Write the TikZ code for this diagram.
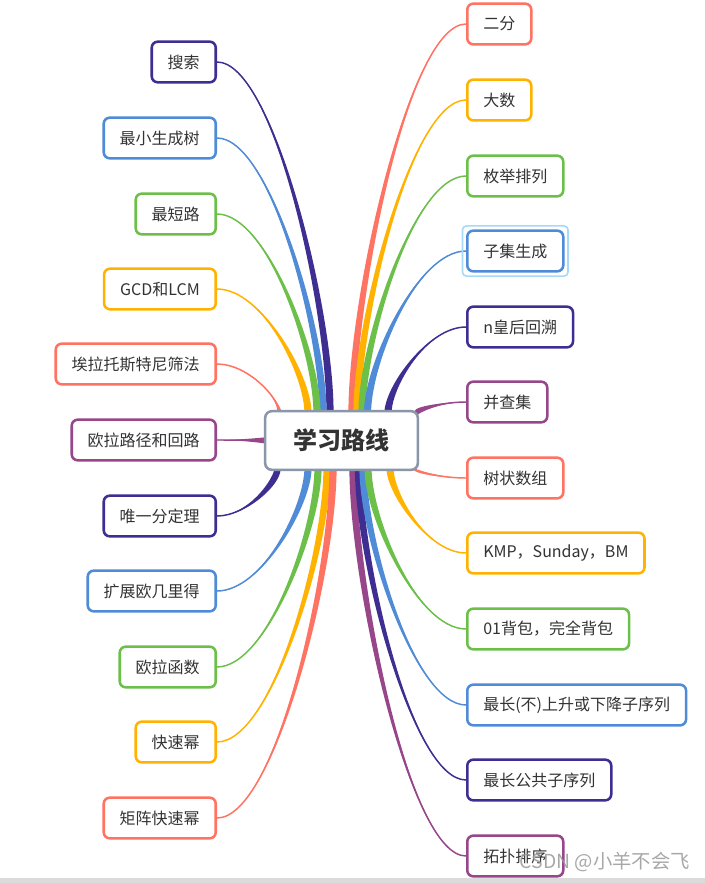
\documentclass[tikz,border=0pt]{standalone}
\usepackage{fontspec}
\setmainfont{Noto Sans CJK SC}
\usetikzlibrary{calc,backgrounds}
\definecolor{cred}{HTML}{FF7363}
\definecolor{cyel}{HTML}{FFB300}
\definecolor{cgrn}{HTML}{6CC04A}
\definecolor{cblu}{HTML}{4F8BD6}
\definecolor{cdp}{HTML}{3F2E92}
\definecolor{cpur}{HTML}{974689}
\definecolor{croot}{HTML}{8A97AA}
\definecolor{ctext}{HTML}{333333}
\definecolor{csel}{HTML}{A6DAF8}
\newcommand\mmbranch[4]{%
 \fill[#1] let \p1=(#2), \p2=(#3), \p3=#4 in
  (\p1) .. controls ({\x1+0.5*(\x2-\x1)},{\y1}) and ({\x2+\x3},{\y2+0.3*(\y1-\y2)+\y3}) .. ({\x2+\x3},{\y2+\y3})
  -- ({\x2-\x3},{\y2-\y3}) .. controls ({\x2-\x3},{\y2+0.3*(\y1-\y2)-\y3}) and ({\x1+0.5*(\x2-\x1)},{\y1}) .. (\p1) -- cycle;
 \draw[#1, line width=1.1pt] let \p1=(#2), \p2=(#3) in
  (\p1) .. controls ({\x1+0.5*(\x2-\x1)},{\y1}) and ({\x2},{\y2+0.3*(\y1-\y2)}) .. (\p2);
}
\tikzset{
 leaf/.style={draw=#1, line width=1.9pt, rounded corners=4.5pt, fill=white,
   minimum height=30.5pt, inner xsep=12pt, inner ysep=0pt, text=ctext,
   font=\fontsize{12}{14}\selectfont},
 rootbox/.style={draw=croot, line width=1.9pt, rounded corners=5pt, fill=white,
   minimum width=114.5pt, minimum height=44pt, text=ctext,
   font=\fontsize{18}{20}\selectfont\bfseries},
}
\begin{document}
\begin{tikzpicture}[x=0.75pt,y=-0.75pt]
\useasboundingbox (0,0) rectangle (705,883);
\begin{pgfonlayer}{background}
\fill[white] (0,0) rectangle (705,883);
\end{pgfonlayer}
% root
\node[rootbox] (root) at (341.5,440.5) {学习路线};
% left nodes
\node[leaf=cdp,  anchor=east] (l1)  at (217,62)  {搜索};
\node[leaf=cblu, anchor=east] (l2)  at (217,138) {最小生成树};
\node[leaf=cgrn, anchor=east] (l3)  at (217,214) {最短路};
\node[leaf=cyel, anchor=east] (l4)  at (217,289) {GCD和LCM};
\node[leaf=cred, anchor=east] (l5)  at (217,364) {埃拉托斯特尼筛法};
\node[leaf=cpur, anchor=east] (l6)  at (217,440) {欧拉路径和回路};
\node[leaf=cdp,  anchor=east] (l7)  at (217,516) {唯一分定理};
\node[leaf=cblu, anchor=east] (l8)  at (217,591) {扩展欧几里得};
\node[leaf=cgrn, anchor=east] (l9)  at (217,667) {欧拉函数};
\node[leaf=cyel, anchor=east] (l10) at (217,742) {快速幂};
\node[leaf=cred, anchor=east] (l11) at (217,818) {矩阵快速幂};
% right nodes
\node[leaf=cred, anchor=west] (r1)  at (466,24)  {二分};
\node[leaf=cyel, anchor=west] (r2)  at (466,100) {大数};
\node[leaf=cgrn, anchor=west] (r3)  at (466,176) {枚举排列};
\node[leaf=cblu, anchor=west] (r4)  at (466,251) {子集生成};
\node[leaf=cdp,  anchor=west] (r5)  at (466,327) {n皇后回溯};
\node[leaf=cpur, anchor=west] (r6)  at (466,402) {并查集};
\node[leaf=cred, anchor=west] (r7)  at (466,478) {树状数组};
\node[leaf=cyel, anchor=west] (r8)  at (466,553) {KMP，Sunday，BM};
\node[leaf=cgrn, anchor=west] (r9)  at (466,629) {01背包，完全背包};
\node[leaf=cblu, anchor=west] (r10) at (466,705) {最长(不)上升或下降子序列};
\node[leaf=cdp,  anchor=west] (r11) at (466,780) {最长公共子序列};
\node[leaf=cpur, anchor=west] (r12) at (466,856) {拓扑排序};
% selection outline
\draw[csel, line width=1.2pt, rounded corners=3pt] ($(r4.north west)+(-3.5,-3.5)$) rectangle ($(r4.south east)+(3.5,3.5)$);
% branches
\begin{pgfonlayer}{background}
\mmbranch{cdp} {l1.east}{$(root.north)+(-11.5,3)$}{(3.6,0)}
\mmbranch{cblu}{l2.east}{$(root.north)+(-18.5,3)$}{(3.6,0)}
\mmbranch{cgrn}{l3.east}{$(root.north)+(-24.5,3)$}{(3.6,0)}
\mmbranch{cyel}{l4.east}{$(root.north)+(-33.5,3)$}{(3.6,0)}
\mmbranch{cred}{l5.east}{$(root.north west)+(16,4)$}{(2.6,2.6)}
\mmbranch{cpur}{l6.east}{$(root.west)+(4,0)$}{(0,3.4)}
\mmbranch{cdp} {l7.east}{$(root.south west)+(14,-4)$}{(2.6,2.6)}
\mmbranch{cblu}{l8.east}{$(root.south)+(-33.5,-3)$}{(3.6,0)}
\mmbranch{cgrn}{l9.east}{$(root.south)+(-23.5,-3)$}{(3.6,0)}
\mmbranch{cyel}{l10.east}{$(root.south)+(-14.5,-3)$}{(3.6,0)}
\mmbranch{cred}{l11.east}{$(root.south)+(-8.5,-3)$}{(3.6,0)}
\mmbranch{cred}{r1.west}{$(root.north)+(10.5,3)$}{(3.6,0)}
\mmbranch{cyel}{r2.west}{$(root.north)+(15.5,3)$}{(3.6,0)}
\mmbranch{cgrn}{r3.west}{$(root.north)+(20.5,3)$}{(3.6,0)}
\mmbranch{cblu}{r4.west}{$(root.north)+(26,3)$}{(3.6,0)}
\mmbranch{cdp} {r5.west}{$(root.north)+(46.5,3)$}{(3.6,0)}
\mmbranch{cpur}{r6.west}{$(root.north east)+(-4,4)$}{(0,3.4)}
\mmbranch{cred}{r7.west}{$(root.south east)+(-8,-4)$}{(2.6,2.6)}
\mmbranch{cyel}{r8.west}{$(root.south)+(48.5,-3)$}{(3.6,0)}
\mmbranch{cpur}{r12.west}{$(root.south)+(11.5,-3)$}{(3.6,0)}
\mmbranch{cdp} {r11.west}{$(root.south)+(17,-3)$}{(3.6,0)}
\mmbranch{cblu}{r10.west}{$(root.south)+(21.5,-3)$}{(3.6,0)}
\mmbranch{cgrn}{r9.west}{$(root.south)+(26.5,-3)$}{(3.6,0)}
\end{pgfonlayer}
% watermark and bottom band
\fill[black!14] (0,878) rectangle (705,883);
\node[anchor=east, text=black!40, opacity=0.85, font=\fontsize{14.5}{16}\selectfont, inner sep=0pt] (wm) at (690,862) {CSDN @小羊不会飞};
\end{tikzpicture}
\end{document}
